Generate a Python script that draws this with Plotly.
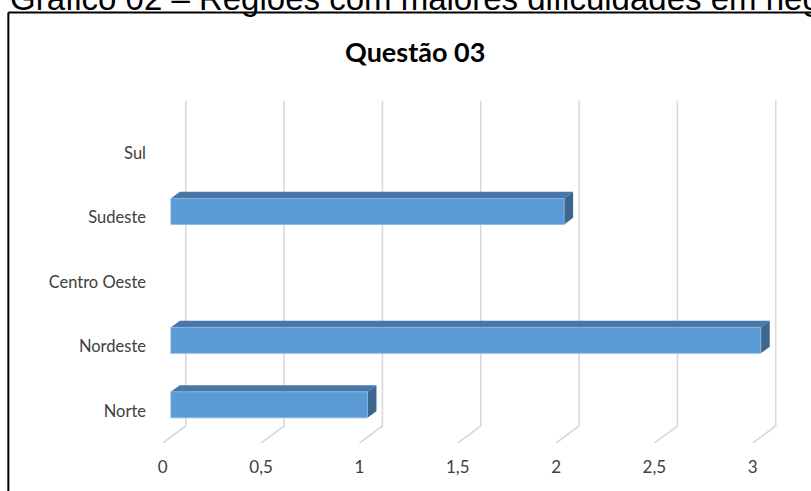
import plotly.graph_objects as go

# ---------------- data ----------------
categories = ["Norte", "Nordeste", "Centro Oeste", "Sudeste", "Sul"]
values = [1, 3, 0, 2, 0]
x_ticks = [0, 0.5, 1, 1.5, 2, 2.5, 3]
x_tick_labels = ["0", "0,5", "1", "1,5", "2", "2,5", "3"]
chart_title = "Questão 03"
caption = "Gráfico 02 – Regiões com maiores dificuldades em negociação"

# ---------------- layout constants ----------------
W, H = 811, 491
PX_PER_X = 196.7      # pixels per x unit
X0_PX = 163.0         # pixel of x=0 at the front of the floor
PX_PER_Y = 64.5       # pixels per category step
Y0_PX = 411.0         # pixel of the first category (front)
x_range = [-0.06, 3.22]
y_range = [-0.5, 4.977]
left = X0_PX + x_range[0] * PX_PER_X
right = X0_PX + x_range[1] * PX_PER_X
bottom = Y0_PX - y_range[0] * PX_PER_Y
top = Y0_PX - y_range[1] * PX_PER_Y

DX = 23 / PX_PER_X    # depth shift in x units (front -> back wall)
DY = 17 / PX_PER_Y    # depth shift in y units
Z1, Z2 = 0.35, 0.74   # bar front/back depth fraction
BAR_H = 26 / PX_PER_Y
WALL_TOP = 4.81

FRONT = "#5B9BD5"
TOPC = "#4677A8"
SIDE = "#3C6790"
GRID = "#D9D9D9"
TXT = "#404040"
FONT = "Lato"


def px_to_paper_x(px):
    return (px - left) / (right - left)


def px_to_paper_y(py):
    return (bottom - py) / (bottom - top)


fig = go.Figure()

# gridlines: floor diagonal + back-wall vertical
gx, gy = [], []
for t in x_ticks:
    gx += [t, t + DX, t + DX, None]
    gy += [y_range[0], y_range[0] + DY, WALL_TOP, None]
fig.add_trace(go.Scatter(x=gx, y=gy, mode="lines",
                         line=dict(color=GRID, width=1.6),
                         hoverinfo="skip", showlegend=False, cliponaxis=False))

# 3D-looking bars
for i, v in enumerate(values):
    if v <= 0:
        continue
    c = i
    fx = Z1 * DX
    fy = c + Z1 * DY
    bx = Z2 * DX
    by = c + Z2 * DY
    h2 = BAR_H / 2
    # side face
    fig.add_trace(go.Scatter(
        x=[fx + v, bx + v, bx + v, fx + v, fx + v],
        y=[fy - h2, by - h2, by + h2, fy + h2, fy - h2],
        fill="toself", fillcolor=SIDE, mode="lines", line=dict(width=0, color=SIDE),
        hoverinfo="skip", showlegend=False))
    # top face
    fig.add_trace(go.Scatter(
        x=[fx, fx + v, bx + v, bx, fx],
        y=[fy + h2, fy + h2, by + h2, by + h2, fy + h2],
        fill="toself", fillcolor=TOPC, mode="lines", line=dict(width=0, color=TOPC),
        hoverinfo="skip", showlegend=False))
    # front face
    fig.add_trace(go.Scatter(
        x=[fx, fx + v, fx + v, fx, fx],
        y=[fy - h2, fy - h2, fy + h2, fy + h2, fy - h2],
        fill="toself", fillcolor=FRONT, mode="lines", line=dict(width=0.8, color="#8DB5E0"),
        hoverinfo="skip", showlegend=False))

# chart box border (top and left edges visible)
fig.add_shape(type="line", xref="paper", yref="paper",
              x0=px_to_paper_x(8.5), x1=px_to_paper_x(830),
              y0=px_to_paper_y(12.5), y1=px_to_paper_y(12.5),
              line=dict(color="black", width=2))
fig.add_shape(type="line", xref="paper", yref="paper",
              x0=px_to_paper_x(8.5), x1=px_to_paper_x(8.5),
              y0=px_to_paper_y(12.5), y1=px_to_paper_y(510),
              line=dict(color="black", width=2))

# title
fig.add_annotation(text="<b>" + chart_title + "</b>", xref="paper", yref="paper",
                   x=px_to_paper_x(415), y=px_to_paper_y(51),
                   xanchor="center", yanchor="middle", showarrow=False,
                   font=dict(family=FONT, size=27, color="black"))

# caption above the chart box (cut by the page top, as in the reference)
fig.add_annotation(text=caption, xref="paper", yref="paper",
                   x=px_to_paper_x(9), y=px_to_paper_y(18),
                   xanchor="left", yanchor="bottom", showarrow=False,
                   font=dict(family="Liberation Sans, Arial", size=33, color="black"),
                   borderpad=0)

fig.update_layout(
    width=W, height=H,
    margin=dict(l=left, r=W - right, t=top, b=H - bottom, pad=0),
    paper_bgcolor="white", plot_bgcolor="white",
    xaxis=dict(range=x_range, tickvals=x_ticks, ticktext=x_tick_labels,
               showgrid=False, zeroline=False, showline=False, ticks="",
               ticklabelstandoff=12,
               tickfont=dict(family=FONT, size=17, color=TXT), fixedrange=True),
    yaxis=dict(range=y_range, tickvals=list(range(len(categories))), ticktext=categories,
               showgrid=False, zeroline=False, showline=False, ticks="",
               ticklabelstandoff=4,
               tickfont=dict(family=FONT, size=16.5, color=TXT), fixedrange=True),
)

fig.write_html("out.html")
